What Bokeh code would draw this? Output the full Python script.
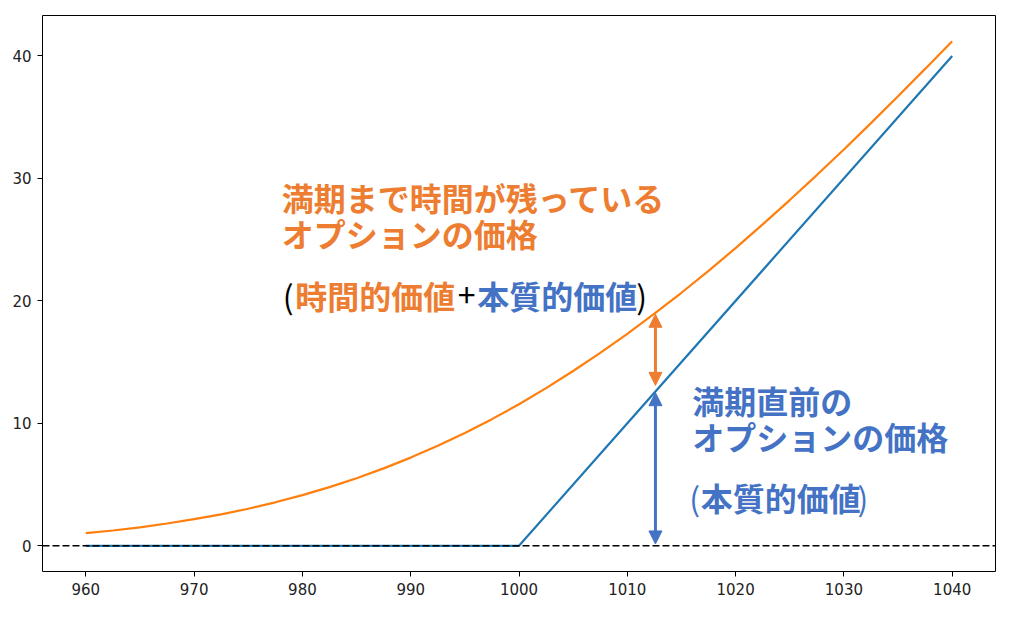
from bokeh.plotting import figure
from bokeh.models import Span, Arrow, NormalHead, Label, FixedTicker, Range1d
from bokeh.embed import file_html
from bokeh.resources import INLINE

# ---- data ----
price_x = [960, 962.5, 965, 967.5, 970, 972.5, 975, 977.5, 980, 982.5, 985,
           987.5, 990, 992.5, 995, 997.5, 1000, 1002.5, 1005, 1007.5, 1010,
           1012.5, 1015, 1017.5, 1020, 1022.5, 1025, 1027.5, 1030, 1032.5,
           1035, 1037.5, 1040]
option_now = [1.03, 1.25, 1.51, 1.82, 2.17, 2.57, 3.02, 3.55, 4.14, 4.79, 5.52,
              6.32, 7.20, 8.16, 9.21, 10.34, 11.56, 12.87, 14.27, 15.75, 17.31,
              18.95, 20.66, 22.45, 24.31, 26.24, 28.23, 30.27, 32.36, 34.51,
              36.71, 38.94, 41.20]
expiry_x = [960, 1000, 1040]
expiry_value = [0, 0, 40]

x_ticks = [960, 970, 980, 990, 1000, 1010, 1020, 1030, 1040]
y_ticks = [0, 10, 20, 30, 40]

arrow_x = 1012.6
orange_arrow = [18.9, 13.1]
blue_arrow = [12.5, 0.15]

ORANGE_LINE = "#ff7f0e"
BLUE_LINE = "#1f77b4"
ORANGE_TXT = "#ED7D31"
BLUE_TXT = "#4472C4"
JP = "Noto Sans CJK JP"

p = figure(width=1016, height=621, output_backend="svg", toolbar_location=None,
           x_range=Range1d(956, 1044), y_range=Range1d(-2.1, 43.3),
           min_border_left=42, min_border_right=21, min_border_top=15,
           min_border_bottom=50)
p.background_fill_color = "white"
p.border_fill_color = "white"
p.outline_line_color = "black"
p.outline_line_width = 1
p.xgrid.visible = False
p.ygrid.visible = False

for ax in (p.xaxis[0], p.yaxis[0]):
    ax.axis_line_color = None
    ax.major_tick_in = 0
    ax.major_tick_out = 5
    ax.minor_tick_line_color = None
    ax.major_tick_line_color = "black"
    ax.major_label_text_font = "DejaVu Sans"
    ax.major_label_text_font_size = "15px"
    ax.major_label_text_color = "#222222"
    ax.major_label_standoff = 6
p.xaxis.ticker = FixedTicker(ticks=x_ticks)
p.yaxis.ticker = FixedTicker(ticks=y_ticks)

p.line(price_x, option_now, line_color=ORANGE_LINE, line_width=2.2)
p.line(expiry_x, expiry_value, line_color=BLUE_LINE, line_width=2.2)
p.add_layout(Span(location=0, dimension="width", line_color="black",
                  line_dash="7 3", line_width=1.4))

p.add_layout(Arrow(start=NormalHead(size=13, fill_color=ORANGE_TXT, line_color=ORANGE_TXT),
                   end=NormalHead(size=13, fill_color=ORANGE_TXT, line_color=ORANGE_TXT),
                   x_start=arrow_x, y_start=orange_arrow[1], x_end=arrow_x, y_end=orange_arrow[0],
                   line_color=ORANGE_TXT, line_width=3))
p.add_layout(Arrow(start=NormalHead(size=13, fill_color=BLUE_TXT, line_color=BLUE_TXT),
                   end=NormalHead(size=13, fill_color=BLUE_TXT, line_color=BLUE_TXT),
                   x_start=arrow_x, y_start=blue_arrow[1], x_end=arrow_x, y_end=blue_arrow[0],
                   line_color=BLUE_TXT, line_width=3))


def lab(x, y, text, color, bold=True, align="left", size="32px"):
    p.add_layout(Label(x=x, y=y, text=text, text_color=color, text_font=JP,
                       text_font_size=size, text_font_style="bold" if bold else "normal",
                       text_align=align, text_baseline="middle"))


lab(978.1, 28.49, "満期まで時間が残っている", ORANGE_TXT)
lab(978.1, 25.51, "オプションの価格", ORANGE_TXT)
lab(978.68, 20.45, "(", "black", bold=False, align="center")
lab(979.33, 20.45, "時間的価値", ORANGE_TXT)
lab(995.17, 20.45, "+", "black", bold=False, align="center")
lab(996.14, 20.45, "本質的価値", BLUE_TXT)
lab(1011.33, 20.45, ")", "black", bold=False, align="center")

lab(1016.0, 11.88, "満期直前の", BLUE_TXT)
lab(1016.0, 8.98, "オプションの価格", BLUE_TXT)
lab(1016.23, 3.96, "(", BLUE_TXT, bold=False, align="center")
lab(1016.79, 3.96, "本質的価値", BLUE_TXT)
lab(1031.75, 3.96, ")", BLUE_TXT, bold=False, align="center")

open("out.html", "w").write(file_html(p, INLINE))
